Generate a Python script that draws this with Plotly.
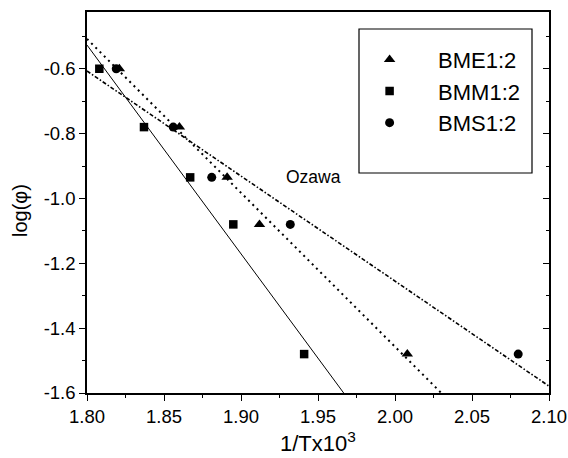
import numpy as np
import plotly.graph_objects as go

# Data
log_phi = [-0.60, -0.78, -0.935, -1.08, -1.48]
x_bme = [1.821, 1.860, 1.891, 1.912, 2.008]   # triangles
x_bmm = [1.808, 1.837, 1.867, 1.895, 1.941]   # squares
x_bms = [1.819, 1.856, 1.881, 1.932, 2.080]   # circles
series_names = ["BME1:2", "BMM1:2", "BMS1:2"]
x_ticks = [1.80, 1.85, 1.90, 1.95, 2.00, 2.05, 2.10]
y_ticks = [-1.6, -1.4, -1.2, -1.0, -0.8, -0.6]
fit_span = [1.80, 2.10]

FONT = "Liberation Sans, Arial, sans-serif"

fig = go.Figure()

def fit_line(xs, ys):
    k, b = np.polyfit(xs, ys, 1)
    xx = np.array(fit_span)
    return xx, k * xx + b

# fit lines
fx, fy = fit_line(x_bmm, log_phi)
fig.add_trace(go.Scatter(x=fx, y=fy, mode="lines", line=dict(color="black", width=1),
                         showlegend=False, hoverinfo="skip"))
fx, fy = fit_line(x_bme, log_phi)
fig.add_trace(go.Scatter(x=fx, y=fy, mode="lines", line=dict(color="black", width=2, dash="2px,4px"),
                         showlegend=False, hoverinfo="skip"))
fx, fy = fit_line(x_bms, log_phi)
fig.add_trace(go.Scatter(x=fx, y=fy, mode="lines", yaxis="y2",
                         line=dict(color="black", width=1.6, dash="4px,2px,1.5px,2px"),
                         showlegend=False, hoverinfo="skip"))

# markers
fig.add_trace(go.Scatter(x=x_bme, y=log_phi, mode="markers", name=series_names[0],
                         marker=dict(symbol="triangle-up", size=10, color="black")))
fig.add_trace(go.Scatter(x=x_bmm, y=log_phi, mode="markers", name=series_names[1],
                         marker=dict(symbol="square", size=8.5, color="black")))
fig.add_trace(go.Scatter(x=x_bms, y=log_phi, mode="markers", name=series_names[2],
                         marker=dict(symbol="circle", size=9, color="black")))

yr = [-1.6, -0.425]
fig.update_layout(
    width=568, height=458,
    margin=dict(l=87, r=19, t=12, b=65, autoexpand=False),
    paper_bgcolor="white", plot_bgcolor="white",
    font=dict(family=FONT, size=18.5, color="black"),
    xaxis=dict(range=[1.80, 2.10], tickvals=x_ticks, ticktext=[f"{v:.2f}" for v in x_ticks],
               automargin=False,
               showgrid=False, zeroline=False, showline=True, linecolor="black", linewidth=1.5,
               mirror=True, ticks="outside", ticklen=6, tickwidth=1.2, tickcolor="black",
               minor=dict(dtick=0.025, ticks="outside", ticklen=3, tickcolor="black", tickwidth=1),
               tickfont=dict(size=18.5)),
    yaxis=dict(range=yr, tickvals=y_ticks, ticktext=[f"{v:.1f}" for v in y_ticks],
               automargin=False,
               showgrid=False, zeroline=False, showline=True, linecolor="black", linewidth=1.5,
               ticks="outside", ticklen=6, tickwidth=1.2, tickcolor="black",
               minor=dict(dtick=0.1, ticks="outside", ticklen=3, tickcolor="black", tickwidth=1),
               tickfont=dict(size=18.5)),
    yaxis2=dict(range=yr, overlaying="y", side="right", showgrid=False, zeroline=False,
                automargin=False,
                showline=True, linecolor="black", linewidth=1.5, showticklabels=False,
                tickvals=y_ticks, ticks="inside", ticklen=6, tickwidth=1.2, tickcolor="black",
                minor=dict(dtick=0.1, ticks="inside", ticklen=3, tickcolor="black", tickwidth=1)),
    legend=dict(x=0.550, y=0.930, xanchor="left", yanchor="top", bgcolor="rgba(0,0,0,0)",
                borderwidth=0, font=dict(size=22, family=FONT), itemwidth=87, tracegroupgap=0),
    shapes=[dict(type="rect", xref="paper", yref="paper",
                 x0=(359 - 87) / 462, x1=(532 - 87) / 462,
                 y0=(393 - 173) / 381, y1=(393 - 29) / 381,
                 line=dict(color="black", width=1.2), fillcolor="rgba(0,0,0,0)")],
    annotations=[
        dict(x=1.947, y=-0.935, xref="x", yref="y", text="Ozawa", showarrow=False,
             font=dict(size=17.5, family=FONT)),
        dict(x=(20 - 87) / 462, y=(393 - 211) / 381, xref="paper", yref="paper",
             text="log(φ)", textangle=-90, showarrow=False, xanchor="center", yanchor="middle",
             font=dict(size=20, family=FONT)),
        dict(x=0.5, y=(393 - 458) / 381, xref="paper", yref="paper",
             text="1/Tx10<sup>3</sup>", showarrow=False, xanchor="center", yanchor="bottom",
             font=dict(size=22, family=FONT)),
    ],
)

fig.write_html("out.html")
